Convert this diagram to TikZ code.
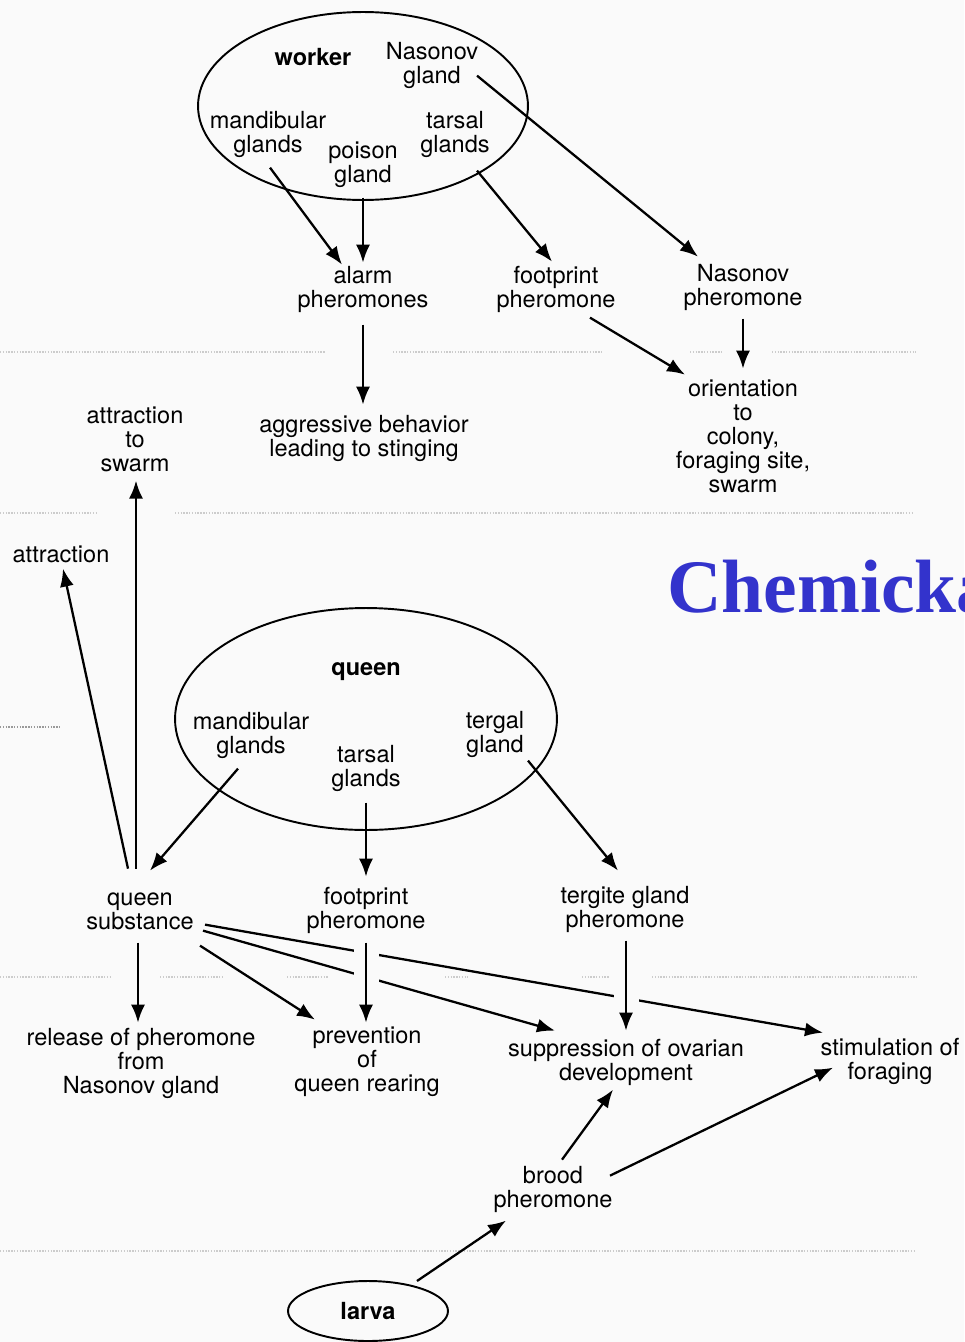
\documentclass[tikz,border=0pt]{standalone}
\usepackage{fontspec}
\setmainfont{TeX Gyre Heros}
\newfontfamily\titlefont{Liberation Serif}
\usepackage{xcolor}
\usepackage{tikz}
\usetikzlibrary{shapes.geometric,arrows.meta,calc}
\definecolor{bgcol}{RGB}{250,250,250}
\definecolor{titleblue}{RGB}{51,51,204}

\begin{document}
\begin{tikzpicture}[x=0.02cm, y=-0.02cm,
    lbl/.style={align=center, inner sep=1pt, yshift=-1.5pt, font=\fontsize{13.4}{13.7}\selectfont},
    caste/.style={ellipse, draw, line width=1.1pt, inner sep=0pt},
    arr/.style={-{Latex[length=0.36cm, width=0.28cm]}, line width=1.3pt},
    gap/.style={preaction={draw=bgcol, line width=0.5cm, arrows=-}},
    sep/.style={draw=gray!40, line width=0.7pt, dash pattern=on 0.8pt off 0.8pt}]
    \fill[bgcol] (0,0) rectangle (964,1342);
    \useasboundingbox (0,0) rectangle (964,1342);

    \foreach \a/\b in {0/325, 393/603, 690/723, 772/916} \draw[sep] (\a,352) -- (\b,352);
    \foreach \a/\b in {0/98, 175/912} \draw[sep] (\a,513) -- (\b,513);
    \draw[sep, draw=gray!80] (0,727) -- (60,727);
    \foreach \a/\b in {0/110, 160/222, 287/328, 445/468, 582/610, 652/917} \draw[sep] (\a,977) -- (\b,977);
    \draw[sep] (0,1251) -- (916,1251);

    \begin{scope}
        \clip (0,0) rectangle (964,1342);
        \node[anchor=base west, inner sep=0pt, text=titleblue, font=\titlefont\bfseries\fontsize{43}{50}\selectfont] (title) at (667,612) {Chemicka};
    \end{scope}

    \node[caste, minimum width=6.6cm, minimum height=3.76cm] (workerbody) at (363,106) {};
    \node[lbl, font=\fontsize{13.4}{13.7}\selectfont\bfseries] (workerlbl) at (313,54) {worker};
    \node[lbl] (wnas) at (432,63) {Nasonov\\gland};
    \node[lbl] (wmand) at (268,132) {mandibular\\glands};
    \node[lbl] (wpois) at (363,162) {poison\\gland};
    \node[lbl] (wtars) at (455,132) {tarsal\\glands};

    \node[lbl] (alarm) at (363,287) {alarm\\pheromones};
    \node[lbl] (wfoot) at (556,287) {footprint\\pheromone};
    \node[lbl] (nasph) at (743,285) {Nasonov\\pheromone};
    \node[lbl] (aggr) at (364,436) {aggressive behavior\\leading to stinging};
    \node[lbl] (orient) at (743,434) {orientation\\to\\colony,\\foraging site,\\swarm};
    \node[lbl] (attrsw) at (135,437) {attraction\\to\\swarm};
    \node[lbl] (attr) at (61,552) {attraction};

    \node[caste, minimum width=7.64cm, minimum height=4.44cm] (queenbody) at (366,719) {};
    \node[lbl, font=\fontsize{13.4}{13.7}\selectfont\bfseries] (queenlbl) at (366,669) {queen};
    \node[lbl] (qmand) at (251,733) {mandibular\\glands};
    \node[lbl] (qtars) at (366,766) {tarsal\\glands};
    \node[lbl] (qterg) at (495,732) {tergal\\gland};

    \node[lbl] (qsub) at (140,909) {queen\\substance};
    \node[lbl] (qfoot) at (366,908) {footprint\\pheromone};
    \node[lbl] (terg) at (625,907) {tergite gland\\pheromone};
    \node[lbl] (release) at (141,1061) {release of pheromone\\from\\Nasonov gland};
    \node[lbl] (prev) at (367,1059) {prevention\\of\\queen rearing};
    \node[lbl] (supp) at (626,1060) {suppression of ovarian\\development};
    \node[lbl] (stim) at (890,1059) {stimulation of\\foraging};
    \node[lbl] (brood) at (553,1187) {brood\\pheromone};
    \node[caste, lbl, minimum width=3.2cm, minimum height=1.2cm, yshift=1.5pt, font=\fontsize{13.4}{13.7}\selectfont\bfseries] (larva) at (368,1311) {larva};

    \draw[arr] ($(wmand)+(2,33)$) -- ($(alarm)+(-21,-25)$);
    \draw[arr] ($(wpois)+(0,33)$) -- ($(alarm)+(0,-27)$);
    \draw[arr] ($(wtars)+(22,36)$) -- ($(wfoot)+(-4,-28)$);
    \draw[arr] ($(wnas)+(45,10)$) -- ($(nasph)+(-45,-31)$);
    \draw[arr] ($(alarm)+(0,35)$) -- ($(aggr)+(-1,-34)$);
    \draw[arr] ($(wfoot)+(34,28)$) -- ($(orient)+(-58,-62)$);
    \draw[arr] ($(nasph)+(0,31)$) -- ($(orient)+(0,-68)$);

    \draw[arr] ($(qmand)+(-13,33)$) -- ($(qsub)+(10,-41)$);
    \draw[arr] ($(qtars)+(0,34)$) -- ($(qfoot)+(0,-34)$);
    \draw[arr] ($(qterg)+(33,26)$) -- ($(terg)+(-7,-39)$);
    \draw[arr] ($(qsub)+(-12,-43)$) -- ($(attr)+(2,14)$);
    \draw[arr] ($(qsub)+(-4,-43)$) -- ($(attrsw)+(1,41)$);

    \draw[arr] ($(qsub)+(-2,31)$) -- ($(release)+(-3,-41)$);
    \draw[arr] ($(qsub)+(60,34)$) -- ($(prev)+(-52,-42)$);
    \draw[arr] ($(qsub)+(63,19)$) -- ($(supp)+(-71,-32)$);
    \draw[arr] ($(qsub)+(65,13)$) -- ($(stim)+(-67,-29)$);
    \draw[arr, gap] ($(qfoot)+(0,32)$) -- ($(prev)+(-1,-39)$);
    \draw[arr, gap] ($(terg)+(1,31)$) -- ($(supp)+(0,-32)$);

    \draw[arr] ($(brood)+(9,-30)$) -- ($(supp)+(-13,27)$);
    \draw[arr] ($(brood)+(57,-14)$) -- ($(stim)+(-57,6)$);
    \draw[arr] ($(larva)+(49,-30)$) -- ($(brood)+(-47,31)$);
\end{tikzpicture}
\end{document}
